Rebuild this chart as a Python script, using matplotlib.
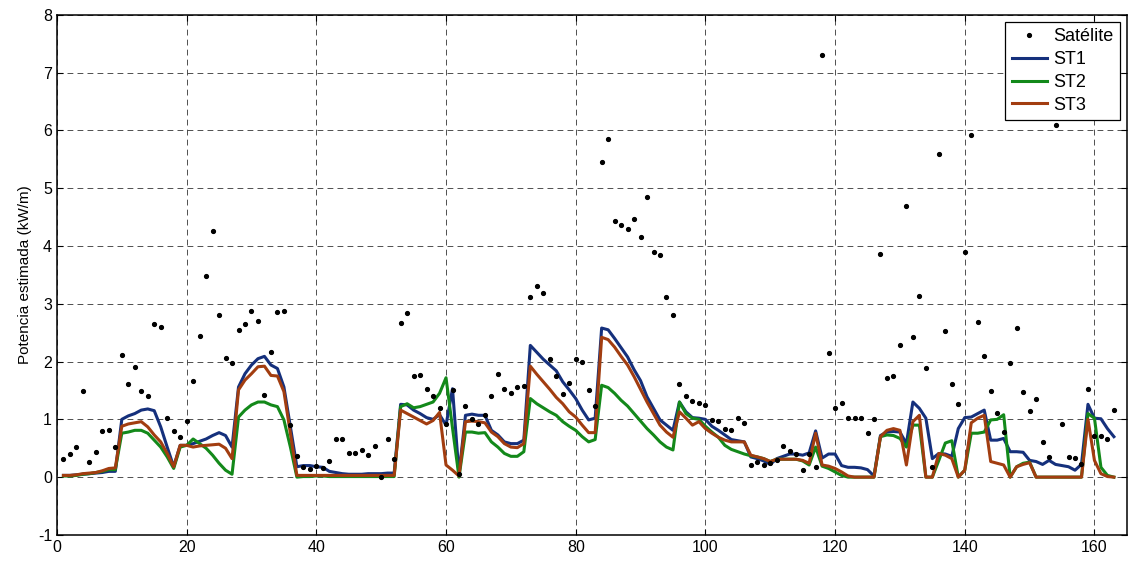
import numpy as np
import matplotlib
matplotlib.use('Agg')
import matplotlib.pyplot as plt

plt.rcParams['font.family'] = ['Liberation Sans', 'DejaVu Sans']
plt.rcParams['axes.unicode_minus'] = False

# sample index 1..163
idx = np.arange(1, 164)

satelite = [
    0.32, 0.40, 0.52, 1.49, 0.26, 0.44, 0.80, 0.81, 0.52, 2.11,
    1.62, 1.90, 1.49, 1.41, 2.65, 2.60, 1.03, 0.80, 0.70, 0.97,
    1.66, 2.44, 3.48, 4.26, 2.80, 2.06, 1.98, 2.55, 2.65, 2.88,
    2.70, 1.42, 2.17, 2.85, 2.88, 0.90, 0.36, 0.17, 0.14, 0.19,
    0.16, 0.28, 0.66, 0.66, 0.41, 0.41, 0.47, 0.39, 0.54, 0.005,
    0.66, 0.32, 2.66, 2.84, 1.75, 1.76, 1.52, 1.41, 1.20, 0.92,
    1.50, 0.05, 1.23, 1.00, 0.92, 1.07, 1.41, 1.78, 1.52, 1.45,
    1.56, 1.57, 3.12, 3.30, 3.18, 2.05, 1.75, 1.44, 1.63, 2.04,
    2.00, 1.51, 1.23, 5.46, 5.86, 4.43, 4.37, 4.29, 4.47, 4.16,
    4.84, 3.89, 3.84, 3.11, 2.80, 1.61, 1.41, 1.31, 1.29, 1.25,
    0.99, 0.97, 0.84, 0.82, 1.03, 0.93, 0.21, 0.27, 0.21, 0.25,
    0.30, 0.54, 0.46, 0.40, 0.12, 0.40, 0.17, 7.30, 2.14, 1.19,
    1.29, 1.02, 1.03, 1.02, 0.77, 1.00, 3.87, 1.71, 1.75, 2.28,
    4.69, 2.43, 3.14, 1.88, 0.17, 5.59, 2.53, 1.61, 1.27, 3.90,
    5.92, 2.68, 2.10, 1.49, 1.11, 0.78, 1.98, 2.58, 1.47, 1.14,
    1.35, 0.60, 0.35, 6.09, 0.92, 0.35, 0.33, 0.22, 1.53, 0.71,
    0.71, 0.66, 1.17,
]

st1 = [
    0.03, 0.03, 0.04, 0.05, 0.06, 0.07, 0.08, 0.10, 0.10, 1.00,
    1.06, 1.10, 1.16, 1.18, 1.15, 0.87, 0.52, 0.18, 0.55, 0.55,
    0.58, 0.62, 0.66, 0.72, 0.77, 0.72, 0.52, 1.56, 1.79, 1.94,
    2.05, 2.09, 1.94, 1.88, 1.56, 0.87, 0.18, 0.20, 0.20, 0.18,
    0.17, 0.10, 0.08, 0.06, 0.05, 0.05, 0.05, 0.06, 0.06, 0.06,
    0.07, 0.07, 1.26, 1.25, 1.16, 1.10, 1.03, 1.00, 1.08, 0.90,
    1.53, 0.05, 1.07, 1.09, 1.07, 1.07, 0.81, 0.73, 0.61, 0.58,
    0.58, 0.64, 2.28, 2.16, 2.04, 1.94, 1.84, 1.65, 1.51, 1.36,
    1.16, 0.99, 1.02, 2.58, 2.55, 2.40, 2.24, 2.08, 1.86, 1.67,
    1.39, 1.19, 0.99, 0.90, 0.81, 1.30, 1.13, 1.03, 1.02, 1.00,
    0.88, 0.81, 0.73, 0.65, 0.63, 0.61, 0.35, 0.32, 0.28, 0.22,
    0.32, 0.36, 0.40, 0.40, 0.38, 0.42, 0.80, 0.33, 0.40, 0.40,
    0.20, 0.17, 0.17, 0.16, 0.13, 0.02, 0.72, 0.78, 0.79, 0.78,
    0.58, 1.30, 1.19, 1.02, 0.32, 0.41, 0.40, 0.36, 0.84, 1.03,
    1.04, 1.10, 1.16, 0.64, 0.64, 0.67, 0.44, 0.44, 0.43, 0.29,
    0.27, 0.22, 0.29, 0.22, 0.20, 0.18, 0.12, 0.22, 1.26, 1.02,
    1.01, 0.84, 0.70,
]

st2 = [
    0.02, 0.02, 0.03, 0.05, 0.06, 0.08, 0.10, 0.13, 0.13, 0.76,
    0.78, 0.81, 0.81, 0.76, 0.64, 0.52, 0.35, 0.15, 0.52, 0.55,
    0.66, 0.58, 0.50, 0.38, 0.24, 0.12, 0.05, 1.04, 1.16, 1.25,
    1.30, 1.30, 1.25, 1.22, 0.99, 0.52, 0.00, 0.01, 0.01, 0.02,
    0.02, 0.01, 0.01, 0.01, 0.01, 0.01, 0.01, 0.01, 0.01, 0.01,
    0.01, 0.01, 1.22, 1.27, 1.20, 1.22, 1.26, 1.30, 1.45, 1.72,
    0.85, 0.00, 0.78, 0.78, 0.76, 0.77, 0.61, 0.52, 0.41, 0.36,
    0.36, 0.44, 1.36, 1.27, 1.20, 1.13, 1.07, 0.96, 0.88, 0.81,
    0.70, 0.61, 0.65, 1.59, 1.55, 1.45, 1.33, 1.23, 1.10, 0.97,
    0.84, 0.73, 0.61, 0.52, 0.47, 1.30, 1.10, 1.02, 1.00, 0.88,
    0.78, 0.69, 0.55, 0.48, 0.44, 0.40, 0.37, 0.35, 0.32, 0.27,
    0.31, 0.31, 0.31, 0.31, 0.28, 0.21, 0.52, 0.19, 0.15, 0.09,
    0.03, 0.00, 0.00, 0.00, 0.00, 0.00, 0.70, 0.73, 0.72, 0.67,
    0.52, 0.90, 0.90, 0.00, 0.00, 0.29, 0.59, 0.63, 0.00, 0.12,
    0.76, 0.76, 0.78, 0.99, 1.00, 1.08, 0.00, 0.18, 0.24, 0.26,
    0.00, 0.00, 0.00, 0.00, 0.00, 0.00, 0.00, 0.00, 1.10, 1.02,
    0.17, 0.03, 0.00,
]

st3 = [
    0.03, 0.03, 0.04, 0.06, 0.07, 0.08, 0.11, 0.15, 0.16, 0.88,
    0.92, 0.94, 0.96, 0.87, 0.73, 0.61, 0.41, 0.18, 0.55, 0.55,
    0.52, 0.54, 0.55, 0.56, 0.57, 0.50, 0.32, 1.51, 1.68, 1.79,
    1.91, 1.92, 1.76, 1.75, 1.48, 0.76, 0.03, 0.03, 0.03, 0.03,
    0.03, 0.03, 0.03, 0.03, 0.03, 0.03, 0.03, 0.03, 0.03, 0.03,
    0.03, 0.03, 1.16, 1.10, 1.04, 0.98, 0.92, 0.98, 1.12, 0.21,
    0.12, 0.02, 0.96, 0.97, 0.96, 0.94, 0.78, 0.70, 0.58, 0.52,
    0.51, 0.58, 1.92, 1.78, 1.65, 1.52, 1.38, 1.27, 1.13, 1.04,
    0.90, 0.77, 0.77, 2.42, 2.38, 2.25, 2.09, 1.94, 1.74, 1.52,
    1.30, 1.10, 0.90, 0.78, 0.69, 1.13, 1.02, 0.90, 0.96, 0.84,
    0.76, 0.69, 0.64, 0.61, 0.61, 0.61, 0.38, 0.35, 0.32, 0.27,
    0.31, 0.31, 0.31, 0.31, 0.29, 0.24, 0.76, 0.21, 0.19, 0.15,
    0.09, 0.02, 0.00, 0.00, 0.00, 0.00, 0.70, 0.81, 0.84, 0.81,
    0.21, 0.96, 1.07, 0.00, 0.00, 0.41, 0.38, 0.32, 0.00, 0.12,
    0.94, 1.02, 1.07, 0.27, 0.24, 0.21, 0.00, 0.18, 0.22, 0.25,
    0.00, 0.00, 0.00, 0.00, 0.00, 0.00, 0.00, 0.00, 1.00, 0.29,
    0.06, 0.01, 0.00,
]

x_ticks = [0, 20, 40, 60, 80, 100, 120, 140, 160]
y_ticks = [-1, 0, 1, 2, 3, 4, 5, 6, 7, 8]

fig = plt.figure(figsize=(11.28, 5.61), dpi=100)
ax = fig.add_axes([0.0505, 0.0465, 0.9485, 0.927])

ax.plot(idx, satelite, '.', color='black', markersize=5.5, label='Satélite', zorder=3)
ax.plot(idx, st1, color='#15307c', lw=2.2, label='ST1', zorder=2)
ax.plot(idx, st2, color='#13891a', lw=2.2, label='ST2', zorder=2)
ax.plot(idx, st3, color='#a23d10', lw=2.2, label='ST3', zorder=2)

ax.set_xlim(0, 165)
ax.set_ylim(-1, 8)
ax.set_xticks(x_ticks)
ax.set_yticks(y_ticks)
ax.tick_params(direction='in', labelsize=11.5, length=4, top=True, right=True)
ax.grid(True, color='0.2', lw=0.6, linestyle=(0, (7, 5)))
ax.set_axisbelow(True)
for s in ax.spines.values():
    s.set_linewidth(1.1)

ax.set_ylabel('Potencia estimada (kW/m)', fontsize=11)

leg = ax.legend(loc='upper right', fontsize=13, fancybox=False, edgecolor='black',
                framealpha=1, borderaxespad=0.4, handlelength=1.95,
                labelspacing=0.32, borderpad=0.35, handletextpad=0.35)
leg.get_frame().set_linewidth(0.9)

plt.savefig('out.png', dpi=100)
plt.close()
